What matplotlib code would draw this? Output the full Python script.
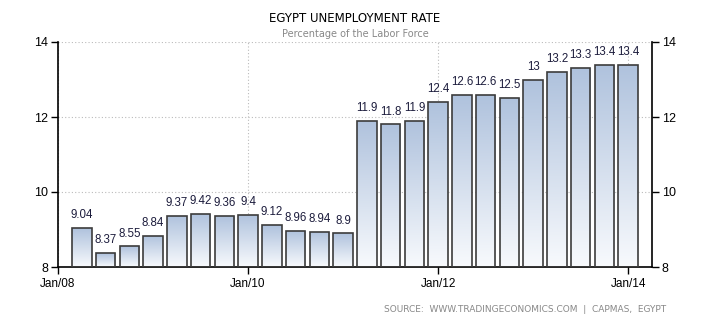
import numpy as np
import matplotlib
matplotlib.use("Agg")
import matplotlib.pyplot as plt
from matplotlib.colors import LinearSegmentedColormap

# quarter index from Jan/08 (0) ; bars run Apr/08 .. Jan/14
quarters = list(range(1, 25))
rates = [9.04, 8.37, 8.55, 8.84, 9.37, 9.42, 9.36, 9.4, 9.12, 8.96, 8.94, 8.9,
         11.9, 11.8, 11.9, 12.4, 12.6, 12.6, 12.5, 13, 13.2, 13.3, 13.4, 13.4]
labels = ["9.04", "8.37", "8.55", "8.84", "9.37", "9.42", "9.36", "9.4", "9.12", "8.96", "8.94", "8.9",
          "11.9", "11.8", "11.9", "12.4", "12.6", "12.6", "12.5", "13", "13.2", "13.3", "13.4", "13.4"]
xtick_pos = [0, 8, 16, 24]
xtick_labels = ["Jan/08", "Jan/10", "Jan/12", "Jan/14"]
ytick_pos = [8, 10, 12, 14]

fig = plt.figure(figsize=(7.1, 3.25), dpi=100)
ax = fig.add_axes([58 / 710, 1 - 267 / 325, 594 / 710, 225 / 325])
ax.set_xlim(0, 25)
ax.set_ylim(8, 14)

grad = LinearSegmentedColormap.from_list("g", ["#f8fafd", "#afc2dd"])
bars = ax.bar(quarters, [r - 8 for r in rates], bottom=8, width=0.82,
              facecolor="none", edgecolor="#3c3c3c", linewidth=1.2, zorder=3)
g = np.linspace(0, 1, 256).reshape(-1, 1)
for b in bars:
    x0, y0 = b.get_x(), b.get_y()
    w, h = b.get_width(), b.get_height()
    im = ax.imshow(g, cmap=grad, origin="lower", aspect="auto",
                   extent=[x0, x0 + w, y0, y0 + h], zorder=2)
    im.set_clip_path(b)

for q, r, t in zip(quarters, rates, labels):
    ax.text(q, r + 0.18, t, ha="center", va="bottom", fontsize=8.3,
            family="Liberation Sans", color="#1c1c3c")

ax.set_xticks(xtick_pos)
ax.set_xticklabels(xtick_labels, fontsize=8.5, family="Liberation Sans")
ax.set_yticks(ytick_pos)
ax.set_yticklabels([str(v) for v in ytick_pos], fontsize=9, family="Liberation Sans")
ax.tick_params(axis="x", direction="out", length=5, width=1, pad=3)
ax.tick_params(axis="y", direction="out", length=5, width=1, pad=2, right=True, labelright=True)

ax.grid(True, linestyle=(0, (1, 2)), color="#bbbbbb", linewidth=0.8, zorder=0)
ax.set_axisbelow(True)
ax.spines["top"].set_visible(False)
for s in ["left", "right", "bottom"]:
    ax.spines[s].set_linewidth(1.2)
    ax.spines[s].set_color("black")

fig.text(355 / 710, 1 - 18 / 325, "EGYPT UNEMPLOYMENT RATE", ha="center", va="center",
         fontsize=8.5, color="black")
fig.text(355 / 710, 1 - 34 / 325, "Percentage of the Labor Force", ha="center", va="center",
         fontsize=7, color="#888888")
fig.text(666 / 710, 1 - 310 / 325, "SOURCE:  WWW.TRADINGECONOMICS.COM  |  CAPMAS,  EGYPT",
         ha="right", va="center", fontsize=6.5, color="#888888")

fig.savefig("out.png", dpi=100)
